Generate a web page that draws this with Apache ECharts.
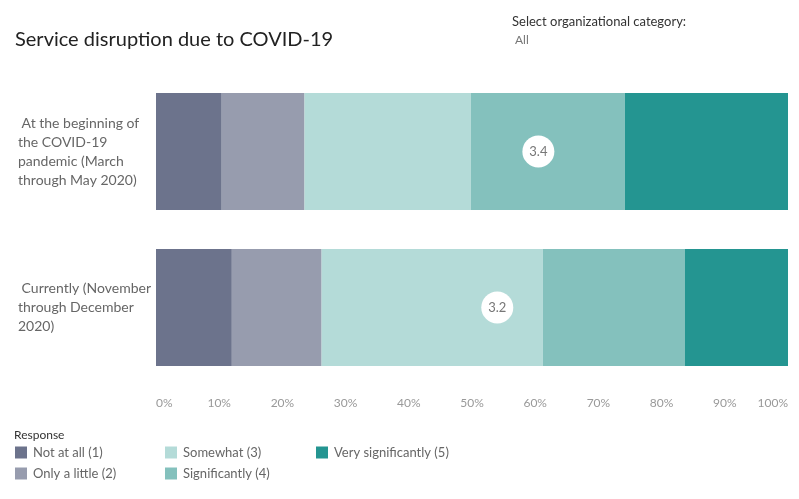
<!DOCTYPE html>
<html>
<head>
<meta charset="utf-8">
<script src="https://cdn.jsdelivr.net/npm/echarts@6/dist/echarts.min.js"></script>
<style>
  html, body { margin: 0; padding: 0; background: #fff; }
  #chart { width: 799px; height: 499px; }
</style>
</head>
<body>
<div id="chart"></div>
<script>
  // categories (top to bottom)
  var periods = [
    " At the beginning of\nthe COVID-19\npandemic (March\nthrough May 2020)",
    " Currently (November\nthrough December\n2020)"
  ];
  var responses = ["Not at all (1)", "Only a little (2)", "Somewhat (3)", "Significantly (4)", "Very significantly (5)"];
  var colors = ["#6c738c", "#979cae", "#b4dbd8", "#84c1bd", "#249591"];
  // share of answers in %, one array per response
  var notAtAll = [10.4, 12.0];
  var onlyLittle = [13.1, 14.2];
  var somewhat = [26.3, 35.0];
  var significantly = [24.4, 22.5];
  var verySignificantly = [25.8, 16.3];
  // mean score (1..5) per period
  var means = [3.42, 3.16];
  var xTicks = [0, 10, 20, 30, 40, 50, 60, 70, 80, 90, 100];

  var values = [notAtAll, onlyLittle, somewhat, significantly, verySignificantly];
  var font = "Lato";

  var series = [];
  for (var i = 0; i < responses.length; i++) {
    series.push({
      name: responses[i],
      type: "bar",
      stack: "total",
      barWidth: "75%",
      itemStyle: { color: colors[i] },
      emphasis: { disabled: true },
      data: values[i]
    });
  }
  // mean marker: 1 -> 0%, 5 -> 100%
  var meanPoints = [];
  for (var j = 0; j < means.length; j++) {
    meanPoints.push([(means[j] - 1) / 4 * 100, j, means[j]]);
  }
  series.push({
    type: "scatter",
    symbolSize: 32,
    itemStyle: { color: "#fff", opacity: 1 },
    emphasis: { disabled: true },
    z: 5,
    label: {
      show: true,
      position: "inside",
      color: "#777",
      fontFamily: font,
      fontSize: 13,
      formatter: function (p) { return p.value[2].toFixed(1); }
    },
    data: meanPoints
  });

  function legendCol(left, names) {
    return {
      orient: "vertical",
      left: left,
      top: 446,
      padding: 0,
      itemWidth: 12,
      itemHeight: 12,
      itemGap: 8,
      icon: "rect",
      selectedMode: false,
      textStyle: { color: "#666", fontFamily: font, fontSize: 13, padding: [0, 0, 0, 1] },
      data: names
    };
  }

  var chart = echarts.init(document.getElementById("chart"));
  chart.setOption({
    animation: false,
    grid: { left: 156, right: 11, top: 73.5, bottom: 113.5 },
    xAxis: {
      type: "value",
      min: 0,
      max: 100,
      interval: 10,
      axisLine: { show: false },
      axisTick: { show: false },
      splitLine: { show: false },
      axisLabel: {
        color: "#999",
        fontFamily: font,
        fontSize: 12,
        margin: 12,
        alignMinLabel: "left",
        alignMaxLabel: "right",
        formatter: function (v) { return xTicks.indexOf(v) >= 0 ? v + "%" : ""; }
      }
    },
    yAxis: {
      type: "category",
      inverse: true,
      data: periods,
      axisLine: { show: false },
      axisTick: { show: false },
      axisLabel: {
        align: "left",
        margin: 138,
        color: "#666",
        fontFamily: font,
        fontSize: 14,
        lineHeight: 19,
        padding: [4, 0, 0, 0]
      }
    },
    legend: [
      legendCol(15, [responses[0], responses[1]]),
      legendCol(165, [responses[2], responses[3]]),
      legendCol(316, [responses[4]])
    ],
    graphic: [
      { type: "text", left: 15, top: 30, style: { text: "Service disruption due to COVID-19", fill: "#222", font: "20px " + font } },
      { type: "text", left: 512, top: 15, style: { text: "Select organizational category:", fill: "#333", font: "13px " + font } },
      { type: "text", left: 515, top: 34, style: { text: "All", fill: "#777", font: "12px " + font } },
      { type: "text", left: 14, top: 429, style: { text: "Response", fill: "#333", font: "12px " + font } }
    ],
    series: series
  });
</script>
</body>
</html>
